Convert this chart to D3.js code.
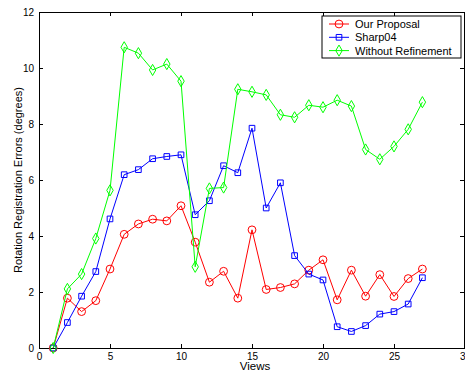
<!DOCTYPE html>
<html>
<head>
<meta charset="utf-8">
<script src="https://cdn.jsdelivr.net/npm/d3@7"></script>
<style>
  body { margin: 0; background: #fff; }
  svg { font-family: "Liberation Sans", Arial, sans-serif; }
</style>
</head>
<body>
<svg id="chart" width="465" height="372"></svg>
<script>
// data
const views = d3.range(1, 28);
const ourProposal = [0, 1.78, 1.30, 1.69, 2.82, 4.06, 4.43, 4.60, 4.54, 5.08, 3.78, 2.35, 2.74, 1.78,
  4.22, 2.09, 2.16, 2.29, 2.78, 3.15, 1.72, 2.78, 1.85, 2.62, 1.84, 2.48, 2.82];
const sharp04 = [0, 0.91, 1.85, 2.73, 4.61, 6.19, 6.37, 6.76, 6.84, 6.90, 4.76, 5.26, 6.51, 6.26,
  7.85, 5.00, 5.90, 3.30, 2.64, 2.43, 0.76, 0.59, 0.80, 1.21, 1.30, 1.57, 2.51];
const withoutRefinement = [0, 2.11, 2.64, 3.91, 5.63, 10.74, 10.53, 9.93, 10.14, 9.53, 2.90, 5.70, 5.73, 9.24,
  9.15, 9.04, 8.33, 8.24, 8.67, 8.60, 8.85, 8.64, 7.09, 6.74, 7.20, 7.81, 8.78];
const xTicks = [0, 5, 10, 15, 20, 25, 30];
const yTicks = [0, 2, 4, 6, 8, 10, 12];

const series = [
  { name: "Our Proposal", values: ourProposal, color: "#ff0000", marker: "circle" },
  { name: "Sharp04", values: sharp04, color: "#0000ff", marker: "square" },
  { name: "Without Refinement", values: withoutRefinement, color: "#00ff00", marker: "diamond" }
];

const svg = d3.select("#chart");
const mLeft = 39, mRight = 465, mTop = 12, mBottom = 348;

const x = d3.scaleLinear().domain([0, 30]).range([mLeft, mRight]);
const y = d3.scaleLinear().domain([0, 12]).range([mBottom, mTop]);

// axes, ticks inward
svg.append("g")
  .attr("transform", "translate(0," + mBottom + ")")
  .call(d3.axisBottom(x).tickValues(xTicks).tickSizeInner(-4).tickSizeOuter(0).tickPadding(5));
svg.append("g")
  .attr("transform", "translate(" + mLeft + ",0)")
  .call(d3.axisLeft(y).tickValues(yTicks).tickSizeInner(-4).tickSizeOuter(0).tickPadding(5));
svg.append("g")
  .attr("transform", "translate(0," + mTop + ")")
  .call(d3.axisTop(x).tickValues(xTicks).tickSizeInner(-4).tickSizeOuter(0).tickFormat(""));
svg.append("g")
  .attr("transform", "translate(" + (mRight - 1) + ",0)")
  .call(d3.axisRight(y).tickValues(yTicks).tickSizeInner(-4).tickSizeOuter(0).tickFormat(""));

svg.selectAll(".domain").attr("stroke", "#000").attr("stroke-width", 1);
svg.selectAll(".tick line").attr("stroke", "#000");
svg.selectAll(".tick text").attr("font-size", 10).attr("fill", "#000")
  .attr("font-family", "Liberation Sans, Arial, sans-serif");

const symbols = {
  circle: d3.symbol().type(d3.symbolCircle).size(48),
  square: d3.symbol().type(d3.symbolSquare).size(32),
  diamond: d3.symbol().type(d3.symbolDiamond).size(36)
};

const line = d3.line().x((d, i) => x(views[i])).y(d => y(d));

series.forEach(s => {
  svg.append("path")
    .datum(s.values)
    .attr("d", line)
    .attr("fill", "none")
    .attr("stroke", s.color)
    .attr("stroke-width", 1);
  svg.append("g").selectAll("path")
    .data(s.values)
    .enter()
    .append("path")
    .attr("d", symbols[s.marker])
    .attr("transform", (d, i) => "translate(" + x(views[i]) + "," + y(d) + ")")
    .attr("fill", "none")
    .attr("stroke", s.color)
    .attr("stroke-width", 1);
});

// legend
const lg = svg.append("g").attr("transform", "translate(322,16)");
lg.append("rect").attr("width", 139).attr("height", 42)
  .attr("fill", "#fff").attr("stroke", "#000").attr("stroke-width", 1);
series.forEach((s, i) => {
  const yy = 8 + i * 13.3;
  lg.append("line").attr("x1", 7).attr("x2", 27).attr("y1", yy).attr("y2", yy)
    .attr("stroke", s.color);
  lg.append("path").attr("d", symbols[s.marker])
    .attr("transform", "translate(17," + yy + ")")
    .attr("fill", "none").attr("stroke", s.color);
  lg.append("text").attr("x", 33).attr("y", yy + 4)
    .attr("font-size", 11).text(s.name);
});

// axis labels
svg.append("text")
  .attr("x", (mLeft + mRight) / 2 + 3).attr("y", 370)
  .attr("text-anchor", "middle").attr("font-size", 11.5)
  .text("Views");
svg.append("text")
  .attr("transform", "translate(22," + ((mTop + mBottom) / 2) + ") rotate(-90)")
  .attr("text-anchor", "middle").attr("font-size", 11)
  .text("Rotation Registration Errors (degrees)");
</script>
</body>
</html>
